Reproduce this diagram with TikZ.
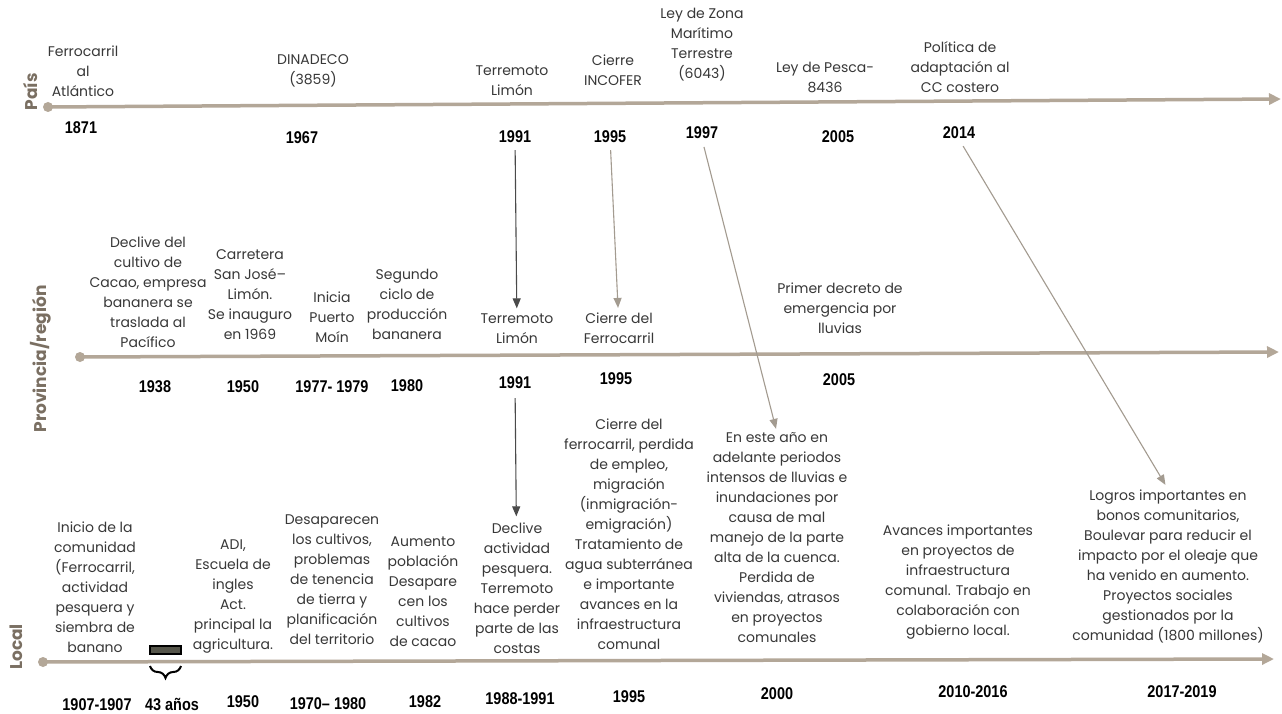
\documentclass[tikz,border=0pt]{standalone}
\usepackage{fontspec}
\setmainfont{Poppins}
\newfontfamily\yearfont[FakeStretch=0.85]{Liberation Sans}
\usetikzlibrary{arrows.meta,decorations.pathreplacing}
\definecolor{axis}{HTML}{B3A798}
\definecolor{txt}{HTML}{383838}
\definecolor{lbl}{HTML}{7A6F62}
\definecolor{darrow}{HTML}{4A4A4A}
\definecolor{larrow}{HTML}{A39B90}
\definecolor{barfill}{HTML}{55554A}

\begin{document}
\begin{tikzpicture}[x=1pt,y=-1pt,
  ev/.style={align=center,text=txt,font=\fontsize{14}{20}\selectfont,inner sep=0pt},
  yr/.style={text=black,font=\yearfont\bfseries\fontsize{17}{20}\selectfont,inner sep=0pt},
  lane/.style={text=lbl,font=\bfseries\fontsize{17}{20}\selectfont,rotate=90,inner sep=0pt},
  axisline/.style={draw=axis,line width=3.5pt,-{Triangle[length=12pt,width=11pt]}},
  axisdot/.style={circle,fill=axis,minimum size=10pt,inner sep=0pt},
  link/.style={line width=1.1pt,-{Triangle[length=10pt,width=8pt]}},
]
\useasboundingbox[fill=white] (0,0) rectangle (1282,714);

% ---------- three time axes ----------
\node[axisdot] (dP) at (48,107) {};
\coordinate (eP) at (1281,99);
\draw[axisline] (dP.center) -- (eP);
\node[axisdot] (dR) at (80,357) {};
\coordinate (eR) at (1279,352);
\draw[axisline] (dR.center) -- (eR);
\node[axisdot] (dL) at (43,662) {};
\coordinate (eL) at (1274,659);
\draw[axisline] (dL.center) -- (eL);

\node[lane] (lP) at (31,92) {País};
\node[lane] (lR) at (41,359) {Provincia/región};
\node[lane] (lL) at (16,647) {Local};

% ---------- país ----------
\node[ev] (ferro) at (83,71) {Ferrocarril\\al\\Atlántico};
\node[ev] (dina) at (313,71) {DINADECO\\(3859)};
\node[ev] (terrP) at (512,80.5) {Terremoto\\Limón};
\node[ev] (incofer) at (613,70.5) {Cierre\\INCOFER};
\node[ev] (zmt) at (702,44.5) {Ley de Zona\\Marítimo\\Terrestre\\(6043)};
\node[ev] (pesca) at (825,77.5) {Ley de Pesca-\\8436};
\node[ev] (polit) at (960,67.5) {Política de\\adaptación al\\CC costero};

\node[yr] (yP1871) at (81,128) {1871};
\node[yr] (yP1967) at (302,138) {1967};
\node[yr] (yP1991) at (515,137) {1991};
\node[yr] (yP1995) at (610,137) {1995};
\node[yr] (yP1997) at (702,133) {1997};
\node[yr] (yP2005) at (838,137) {2005};
\node[yr] (yP2014) at (959,133) {2014};

% ---------- provincia / región ----------
\node[ev] (decl) at (148,292) {Declive del\\cultivo de\\Cacao, empresa\\bananera se\\traslada al\\Pacífico};
\node[ev] (carr) at (250,295) {Carretera\\San José–\\Limón.\\Se inauguro\\en 1969};
\node[ev] (moin) at (332,317.5) {Inicia\\Puerto\\Moín};
\node[ev] (segundo) at (407,304) {Segundo\\ciclo de\\producción\\bananera};
\node[ev] (terrR) at (517,328.5) {Terremoto\\Limón};
\node[ev] (cierreF) at (619,328.5) {Cierre del\\Ferrocarril};
\node[ev] (primer) at (840,308) {Primer decreto de\\emergencia por\\lluvias};

\node[yr] (yR1938) at (155,387) {1938};
\node[yr] (yR1950) at (243,387) {1950};
\node[yr] (yR1977) at (332,387) {1977- 1979};
\node[yr] (yR1980) at (407,386) {1980};
\node[yr] (yR1991) at (515,383) {1991};
\node[yr] (yR1995) at (616,379) {1995};
\node[yr] (yR2005) at (839,380) {2005};

% ---------- local ----------
\node[ev] (inicio) at (95,587) {Inicio de la\\comunidad\\(Ferrocarril,\\actividad\\pesquera y\\siembra de\\banano};
\node[ev] (adi) at (233,596.5) {ADI,\\Escuela de\\ingles\\Act.\\principal la\\agricultura.};
\node[ev] (desap) at (332,580) {Desaparecen\\los cultivos,\\problemas\\de tenencia\\de tierra y\\planificación\\del territorio};
\node[ev] (aumento) at (423,592) {Aumento\\población\\Desapare\\cen los\\cultivos\\de cacao};
\node[ev] (declive) at (517,588) {Declive\\actividad\\pesquera.\\Terremoto\\hace perder\\parte de las\\costas};
\node[ev] (cierreL) at (629,534.5) {Cierre del\\ferrocarril, perdida\\de empleo,\\migración\\(inmigración-\\emigración)\\Tratamiento de\\agua subterránea\\e importante\\avances en la\\infraestructura\\comunal};
\node[ev] (eneste) at (777,538) {En este año en\\adelante periodos\\intensos de lluvias e\\inundaciones por\\causa de mal\\manejo de la parte\\alta de la cuenca.\\Perdida de\\viviendas, atrasos\\en proyectos\\comunales};
\node[ev] (avances) at (958,582.5) {Avances importantes\\en proyectos de\\infraestructura\\comunal. Trabajo en\\colaboración con\\gobierno local.};
\node[ev] (logros) at (1168,566) {Logros importantes en\\bonos comunitarios,\\Boulevar para reducir el\\impacto por el oleaje que\\ha venido en aumento.\\Proyectos sociales\\gestionados por la\\comunidad (1800 millones)};

\node[yr] (yL1907) at (97,705) {1907-1907};
\node[yr] (yL43) at (172,704) {43 años};
\node[yr] (yL1950) at (243,702) {1950};
\node[yr] (yL1970) at (328,704) {1970– 1980};
\node[yr] (yL1982) at (425,702) {1982};
\node[yr] (yL1988) at (520,699) {1988-1991};
\node[yr] (yL1995) at (629,697) {1995};
\node[yr] (yL2000) at (777,694) {2000};
\node[yr] (yL2010) at (973,692) {2010-2016};
\node[yr] (yL2017) at (1182,692) {2017-2019};

% ---------- 43-year gap marker ----------
\node[draw=black,line width=2pt,fill=barfill,minimum width=31pt,minimum height=8pt,inner sep=0pt] (gap) at (165.5,650) {};
\coordinate (brL) at (150,666);
\coordinate (brR) at (181,666);
\draw[line width=2pt,decorate,decoration={brace,mirror,amplitude=12pt}] (brL) -- (brR);

% ---------- links between levels ----------
\draw[link,darrow,shorten <=7pt,shorten >=5pt] (yP1991) -- (terrR);
\draw[link,larrow,shorten <=7pt,shorten >=5pt] (yP1995) -- (cierreF);
\draw[link,larrow,shorten <=8pt,shorten >=4pt] (yP1997.south) -- (eneste.north);
\draw[link,larrow,shorten <=8pt,shorten >=5pt] (yP2014.south) -- (logros.north);
\draw[link,darrow,shorten <=9pt,shorten >=6pt] (yR1991) -- (declive);
\end{tikzpicture}
\end{document}
